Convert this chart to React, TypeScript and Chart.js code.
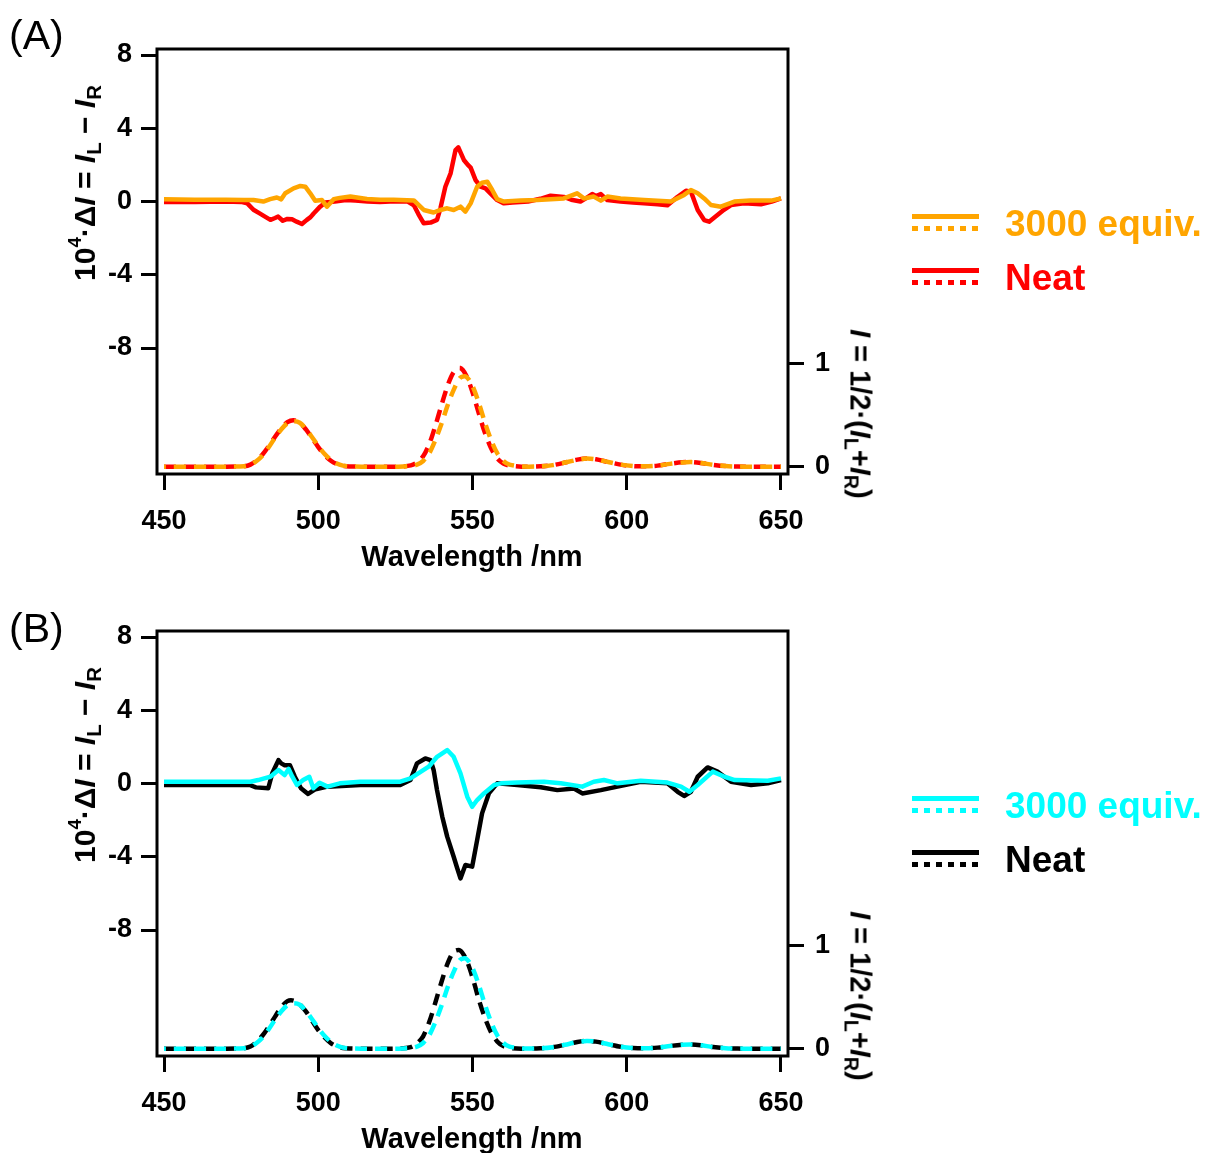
import React, { useEffect, useRef } from "react";
import { Chart, registerables } from "chart.js";

Chart.register(...registerables);

const FONT = "'Liberation Sans', Arial, Helvetica, sans-serif";

const X_TICKS = [450, 500, 550, 600, 650];
const Y_LEFT_TICKS = [-8, -4, 0, 4, 8];
const Y_RIGHT_TICKS = [0, 1];

const ORANGE = "#FFA500";
const RED = "#FF0000";
const CYAN = "#00FFFF";
const BLACK = "#000000";

// ---------- Panel A : CPL (10^4 ΔI) ----------
const A_CPL_NEAT_WL = [450, 460, 470, 475, 477, 479, 481, 483, 484.5, 486, 487, 488.5, 490, 491.5, 493, 494.7, 496.3, 497.5, 498.5, 500.6, 502.3, 504, 506, 509, 512, 516, 520, 525, 529, 531, 532.5, 534.2, 536.4, 538.5, 539.6, 541.2, 542.9, 544.5, 545.4, 547.2, 548.5, 549.4, 551, 552.6, 554.2, 555.8, 558, 560.2, 563, 568, 572, 575.3, 579.6, 582, 585, 587, 588.8, 590, 591.6, 593.7, 598, 602, 605.6, 610, 613.2, 616.4, 619.2, 620.8, 623, 625.1, 626.7, 629.4, 631.5, 633.8, 638, 643.5, 647, 650];
const A_CPL_NEAT = [-0.02, -0.02, 0.0, -0.02, -0.1, -0.45, -0.65, -0.85, -1.0, -0.9, -0.82, -1.05, -0.95, -0.97, -1.1, -1.23, -1.0, -0.85, -0.65, -0.28, -0.05, -0.02, 0.02, 0.08, 0.05, 0.0, -0.02, 0.02, 0.0, -0.2, -0.7, -1.19, -1.15, -1.0, -0.37, 0.81, 1.54, 2.81, 2.96, 2.27, 2.0, 1.85, 1.17, 0.81, 0.72, 0.45, 0.08, -0.1, -0.05, 0.0, 0.15, 0.32, 0.25, 0.1, 0.0, 0.2, 0.41, 0.3, 0.41, 0.08, 0.0, -0.05, -0.1, -0.15, -0.2, 0.25, 0.59, 0.54, -0.46, -1.01, -1.1, -0.74, -0.45, -0.19, -0.1, -0.15, 0.0, 0.17];

const A_CPL_EQ_WL = [450, 460, 470, 476, 479, 482.2, 484.4, 486.6, 488, 489.3, 492, 494.2, 495.8, 497.4, 499, 501.2, 502.8, 505, 507, 510.4, 515.8, 520, 524.4, 531, 534.2, 537.4, 539.6, 541.8, 543.9, 546.1, 547.7, 549.4, 551.5, 553.1, 554.8, 556.4, 558, 560.2, 565.6, 571, 579.6, 583.9, 586.1, 589.3, 591.6, 593.7, 598, 605.6, 614.3, 618.6, 620.8, 623, 625.1, 627.3, 630.5, 634.9, 640, 646.8, 650];
const A_CPL_EQ = [0.12, 0.1, 0.1, 0.08, 0.08, 0.0, 0.13, 0.22, 0.12, 0.45, 0.72, 0.85, 0.81, 0.45, 0.04, 0.08, -0.28, 0.13, 0.2, 0.27, 0.14, 0.1, 0.1, 0.06, -0.46, -0.6, -0.46, -0.37, -0.46, -0.28, -0.55, -0.1, 0.81, 1.03, 1.08, 0.63, 0.13, 0.0, 0.05, 0.08, 0.17, 0.45, 0.17, 0.27, 0.05, 0.27, 0.17, 0.08, 0.0, 0.36, 0.63, 0.45, 0.17, -0.19, -0.28, 0.0, 0.05, 0.05, 0.17];

// ---------- Panel A : PL (I) ----------
const A_PL_NEAT_WL = [450, 470, 476, 478, 480, 482, 484, 486, 488, 490, 492, 494, 496, 498, 500, 502, 504, 506, 508, 510, 514, 526, 530, 532, 534, 536, 538, 540, 542, 544, 546, 548, 550, 552, 554, 556, 558, 560, 562, 566, 572, 576, 580, 584, 587, 590, 594, 598, 602, 606, 610, 614, 618, 621, 624, 628, 632, 636, 640, 650];
const A_PL_NEAT = [0, 0, 0.005, 0.02, 0.06, 0.12, 0.2, 0.29, 0.37, 0.43, 0.45, 0.425, 0.36, 0.275, 0.19, 0.115, 0.06, 0.025, 0.008, 0.002, 0, 0, 0.012, 0.04, 0.1, 0.22, 0.4, 0.6, 0.79, 0.92, 0.955, 0.88, 0.72, 0.52, 0.33, 0.18, 0.08, 0.03, 0.01, 0, 0.003, 0.015, 0.04, 0.068, 0.08, 0.072, 0.045, 0.02, 0.006, 0.003, 0.01, 0.028, 0.042, 0.045, 0.036, 0.018, 0.006, 0.001, 0, 0];

const A_PL_EQ_WL = [450, 470, 476, 478, 480, 482, 484, 486, 488, 490, 492, 494, 496, 498, 500, 502, 504, 506, 508, 510, 514, 526, 530, 532, 534, 536, 538, 540, 542, 544, 546, 548, 550, 552, 554, 556, 558, 560, 562, 566, 572, 576, 580, 584, 587, 590, 594, 598, 602, 606, 610, 614, 618, 621, 624, 628, 632, 636, 640, 650];
const A_PL_EQ = [0, 0, 0.004, 0.018, 0.055, 0.11, 0.19, 0.28, 0.36, 0.42, 0.44, 0.425, 0.365, 0.285, 0.2, 0.125, 0.068, 0.03, 0.01, 0.003, 0, 0, 0.006, 0.02, 0.055, 0.13, 0.26, 0.42, 0.6, 0.75, 0.86, 0.87, 0.78, 0.62, 0.43, 0.26, 0.13, 0.055, 0.02, 0.002, 0.003, 0.015, 0.04, 0.066, 0.078, 0.07, 0.045, 0.02, 0.006, 0.003, 0.01, 0.027, 0.04, 0.044, 0.036, 0.018, 0.006, 0.001, 0, 0];

// ---------- Panel B : CPL (10^4 ΔI) ----------
const B_CPL_NEAT_WL = [450, 470, 477.8, 479.8, 483.8, 485.1, 487.1, 488, 489.1, 490.8, 492.4, 494.4, 496.7, 499.1, 503, 513.6, 526.6, 529.9, 532, 534.7, 536.4, 537.4, 538.5, 540.2, 541.8, 543.9, 545, 546.1, 547.7, 549.9, 551.5, 553.1, 555.3, 558, 564.5, 572.1, 577.5, 582.9, 585.6, 591.6, 597, 604.5, 613.2, 616.5, 618.6, 620.8, 623, 626.2, 629.4, 633.8, 640.3, 645.7, 650];
const B_CPL_NEAT = [-0.08, -0.08, -0.08, -0.21, -0.26, 0.56, 1.28, 1.1, 1.0, 1.0, 0.37, -0.26, -0.57, -0.31, -0.17, -0.08, -0.08, 0.19, 1.1, 1.37, 1.28, 0.74, -0.36, -1.81, -2.9, -4.0, -4.6, -5.18, -4.45, -4.54, -3.09, -1.63, -0.54, 0.01, -0.08, -0.2, -0.36, -0.27, -0.54, -0.36, -0.17, 0.1, 0.01, -0.45, -0.68, -0.45, 0.37, 0.88, 0.65, 0.1, -0.08, 0.01, 0.19];

const B_CPL_EQ_WL = [450, 470, 478, 480.5, 482.5, 484.5, 487.1, 489.1, 490.4, 491.5, 493.1, 495.1, 497.1, 498.4, 500.4, 503, 507, 513.6, 526.6, 529.9, 535.8, 538.5, 541.8, 543.9, 546.1, 548.3, 549.9, 551.5, 553.7, 557, 559.2, 564.5, 573.2, 578.6, 585.6, 589.3, 592.6, 597, 604.5, 613.2, 617.6, 620.3, 623, 627.9, 631.7, 635, 645.7, 650];
const B_CPL_EQ = [0.1, 0.1, 0.1, 0.19, 0.28, 0.37, 0.74, 0.46, 0.8, 0.4, -0.08, 0.19, 0.37, -0.26, 0.04, -0.17, 0.01, 0.1, 0.1, 0.28, 0.92, 1.46, 1.83, 1.46, 0.56, -0.72, -1.27, -0.9, -0.54, -0.08, 0.01, 0.05, 0.1, 0.01, -0.17, 0.1, 0.19, 0.01, 0.15, 0.05, -0.17, -0.45, -0.08, 0.65, 0.37, 0.19, 0.15, 0.28];

// ---------- Panel B : PL (I) ----------
const B_PL_NEAT_WL = [450, 470, 476, 478, 480, 482, 484, 486, 488, 490, 492, 494, 496, 498, 500, 502, 504, 506, 508, 510, 514, 526, 530, 532, 534, 536, 538, 540, 542, 544, 546, 548, 550, 552, 554, 556, 558, 560, 562, 566, 572, 576, 580, 584, 587, 590, 594, 598, 602, 606, 610, 614, 618, 621, 624, 628, 632, 636, 640, 650];
const B_PL_NEAT = [0, 0, 0.005, 0.02, 0.065, 0.13, 0.215, 0.31, 0.4, 0.46, 0.465, 0.43, 0.36, 0.27, 0.18, 0.11, 0.055, 0.022, 0.007, 0.002, 0, 0, 0.015, 0.05, 0.12, 0.26, 0.45, 0.65, 0.83, 0.94, 0.95, 0.86, 0.69, 0.48, 0.3, 0.16, 0.07, 0.025, 0.008, 0, 0.003, 0.014, 0.038, 0.064, 0.075, 0.068, 0.043, 0.019, 0.006, 0.003, 0.01, 0.026, 0.038, 0.041, 0.033, 0.016, 0.005, 0.001, 0, 0];

const B_PL_EQ_WL = [450, 470, 476, 478, 480, 482, 484, 486, 488, 490, 492, 494, 496, 498, 500, 502, 504, 506, 508, 510, 514, 526, 530, 532, 534, 536, 538, 540, 542, 544, 546, 548, 550, 552, 554, 556, 558, 560, 562, 566, 572, 576, 580, 584, 587, 590, 594, 598, 602, 606, 610, 614, 618, 621, 624, 628, 632, 636, 640, 650];
const B_PL_EQ = [0, 0, 0.004, 0.018, 0.055, 0.11, 0.19, 0.28, 0.36, 0.42, 0.44, 0.425, 0.365, 0.285, 0.2, 0.125, 0.068, 0.03, 0.01, 0.003, 0, 0, 0.006, 0.02, 0.055, 0.13, 0.26, 0.42, 0.6, 0.75, 0.86, 0.87, 0.78, 0.62, 0.43, 0.26, 0.13, 0.055, 0.02, 0.002, 0.003, 0.014, 0.038, 0.064, 0.075, 0.068, 0.043, 0.019, 0.006, 0.003, 0.01, 0.026, 0.038, 0.041, 0.033, 0.016, 0.005, 0.001, 0, 0];

type Series = {
  wl: number[];
  val: number[];
  color: string;
  axis: "yL" | "yR";
  dash?: number[];
  dashOffset?: number;
};

const framePlugin = {
  id: "frame",
  afterDraw(chart: any) {
    const { ctx, chartArea: a } = chart;
    ctx.save();
    ctx.strokeStyle = "#000";
    ctx.lineWidth = 3;
    ctx.strokeRect(a.left, a.top, a.right - a.left, a.bottom - a.top);
    ctx.restore();
  },
};

const tickFont = { family: FONT, size: 27, weight: "bold" as const };

function PanelChart({ height, series }: { height: number; series: Series[] }) {
  const ref = useRef<HTMLCanvasElement>(null);
  useEffect(() => {
    const chart = new Chart(ref.current as HTMLCanvasElement, {
      type: "line",
      data: {
        datasets: series.map((s) => ({
          data: s.wl.map((w, i) => ({ x: w, y: s.val[i] })),
          borderColor: s.color,
          backgroundColor: s.color,
          borderWidth: 4.5,
          pointRadius: 0,
          tension: s.dash ? 0.3 : 0,
          borderDash: s.dash || [],
          borderDashOffset: s.dashOffset || 0,
          borderCapStyle: "butt" as const,
          borderJoinStyle: "round" as const,
          yAxisID: s.axis,
          fill: false,
        })),
      },
      options: {
        responsive: false,
        animation: false,
        events: [],
        layout: { padding: { top: 49, left: 0, right: 322, bottom: height - 474 - 90 } },
        plugins: { legend: { display: false }, tooltip: { enabled: false } },
        scales: {
          x: {
            type: "linear",
            position: "bottom",
            min: 447.73,
            max: 652.27,
            afterBuildTicks: (s: any) => {
              s.ticks = X_TICKS.map((v) => ({ value: v }));
            },
            afterFit: (s: any) => {
              s.height = 90;
              s.paddingLeft = 0;
              s.paddingRight = 0;
            },
            border: { display: false },
            grid: { drawOnChartArea: false, drawTicks: true, tickLength: 16, tickWidth: 3, tickColor: "#000" },
            ticks: { font: tickFont, color: "#000", padding: 15, autoSkip: false, maxRotation: 0 },
          },
          yL: {
            type: "linear",
            position: "left",
            min: -14.88,
            max: 8.33,
            afterBuildTicks: (s: any) => {
              s.ticks = Y_LEFT_TICKS.map((v) => ({ value: v }));
            },
            afterFit: (s: any) => {
              s.width = 157;
              s.paddingTop = 0;
              s.paddingBottom = 0;
            },
            border: { display: false },
            grid: { drawOnChartArea: false, drawTicks: true, tickLength: 16, tickWidth: 3, tickColor: "#000" },
            ticks: { font: tickFont, color: "#000", padding: 9, autoSkip: false },
          },
          yR: {
            type: "linear",
            position: "right",
            min: -0.071,
            max: 4.042,
            afterBuildTicks: (s: any) => {
              s.ticks = Y_RIGHT_TICKS.map((v) => ({ value: v }));
            },
            afterFit: (s: any) => {
              s.width = 100;
              s.paddingTop = 0;
              s.paddingBottom = 0;
            },
            border: { display: false },
            grid: { drawOnChartArea: false, drawTicks: true, tickLength: 16, tickWidth: 3, tickColor: "#000" },
            ticks: { font: tickFont, color: "#000", padding: 11, autoSkip: false },
          },
        },
      },
      plugins: [framePlugin],
    });
    return () => chart.destroy();
  }, []);
  return (
    <canvas
      ref={ref}
      width={1210}
      height={height}
      style={{ display: "block", position: "absolute", left: 0, top: 0, width: 1210, height }}
    />
  );
}

const subStyle: React.CSSProperties = { fontSize: "0.68em", verticalAlign: "-0.28em", lineHeight: 0 };
const supStyle: React.CSSProperties = { fontSize: "0.62em", verticalAlign: "0.75em", lineHeight: 0 };

function LegendRow({ y, color, label }: { y: number; color: string; label: string }) {
  return (
    <>
      <div style={{ position: "absolute", left: 912, top: y - 9, width: 67, height: 5, background: color }} />
      <div
        style={{
          position: "absolute",
          left: 912,
          top: y + 3,
          width: 67,
          height: 5,
          background: `repeating-linear-gradient(to right, ${color} 0px, ${color} 6px, transparent 6px, transparent 12px)`,
        }}
      />
      <div
        style={{
          position: "absolute",
          left: 1005,
          top: y,
          transform: "translateY(-50%)",
          fontFamily: FONT,
          fontWeight: "bold",
          fontSize: 37,
          lineHeight: 1,
          color,
          whiteSpace: "nowrap",
        }}
      >
        {label}
      </div>
    </>
  );
}

function Panel({
  top,
  height,
  label,
  labelY,
  series,
  eqColor,
  neatColor,
}: {
  top: number;
  height: number;
  label: string;
  labelY: number;
  series: Series[];
  eqColor: string;
  neatColor: string;
}) {
  return (
    <div style={{ position: "absolute", left: 0, top, width: 1210, height, overflow: "hidden" }}>
      <PanelChart height={height} series={series} />
      <div
        style={{
          position: "absolute",
          left: 9,
          top: labelY,
          transform: "translateY(-50%)",
          fontFamily: FONT,
          fontSize: 41,
          lineHeight: 1,
          color: "#000",
        }}
      >
        {label}
      </div>
      <div
        style={{
          position: "absolute",
          left: 85,
          top: 183,
          transform: "translate(-50%, -50%) rotate(-90deg)",
          fontFamily: FONT,
          fontWeight: "bold",
          fontSize: 30,
          lineHeight: 1,
          whiteSpace: "nowrap",
          color: "#000",
        }}
      >
        10<span style={supStyle}>4</span>·Δ<i>I</i> = <i>I</i>
        <span style={subStyle}>L</span> − <i>I</i>
        <span style={subStyle}>R</span>
      </div>
      <div
        style={{
          position: "absolute",
          left: 860,
          top: 414,
          transform: "translate(-50%, -50%) rotate(90deg)",
          fontFamily: FONT,
          fontWeight: "bold",
          fontSize: 29,
          lineHeight: 1,
          whiteSpace: "nowrap",
          color: "#000",
        }}
      >
        <i>I</i> = 1/2·(<i>I</i>
        <span style={subStyle}>L</span>+<i>I</i>
        <span style={subStyle}>R</span>)
      </div>
      <div
        style={{
          position: "absolute",
          left: 472,
          top: 556,
          transform: "translate(-50%, -50%)",
          fontFamily: FONT,
          fontWeight: "bold",
          fontSize: 29,
          lineHeight: 1,
          whiteSpace: "nowrap",
          color: "#000",
        }}
      >
        Wavelength /nm
      </div>
      <LegendRow y={223} color={eqColor} label="3000 equiv." />
      <LegendRow y={277} color={neatColor} label="Neat" />
    </div>
  );
}

const seriesA: Series[] = [
  { wl: A_CPL_EQ_WL, val: A_CPL_EQ, color: ORANGE, axis: "yL" },
  { wl: A_CPL_NEAT_WL, val: A_CPL_NEAT, color: RED, axis: "yL" },
  { wl: A_PL_EQ_WL, val: A_PL_EQ, color: ORANGE, axis: "yR", dash: [12, 8], dashOffset: 10 },
  { wl: A_PL_NEAT_WL, val: A_PL_NEAT, color: RED, axis: "yR", dash: [12, 8], dashOffset: 0 },
];

const seriesB: Series[] = [
  { wl: B_CPL_EQ_WL, val: B_CPL_EQ, color: CYAN, axis: "yL" },
  { wl: B_CPL_NEAT_WL, val: B_CPL_NEAT, color: BLACK, axis: "yL" },
  { wl: B_PL_EQ_WL, val: B_PL_EQ, color: CYAN, axis: "yR", dash: [12, 8], dashOffset: 10 },
  { wl: B_PL_NEAT_WL, val: B_PL_NEAT, color: BLACK, axis: "yR", dash: [12, 8], dashOffset: 0 },
];

export default function App() {
  return (
    <div style={{ position: "absolute", left: 0, top: 0, width: 1210, height: 1153, background: "#fff" }}>
      <Panel top={0} height={582} label="(A)" labelY={35} series={seriesA} eqColor={ORANGE} neatColor={RED} />
      <Panel top={582} height={571} label="(B)" labelY={46} series={seriesB} eqColor={CYAN} neatColor={BLACK} />
    </div>
  );
}
